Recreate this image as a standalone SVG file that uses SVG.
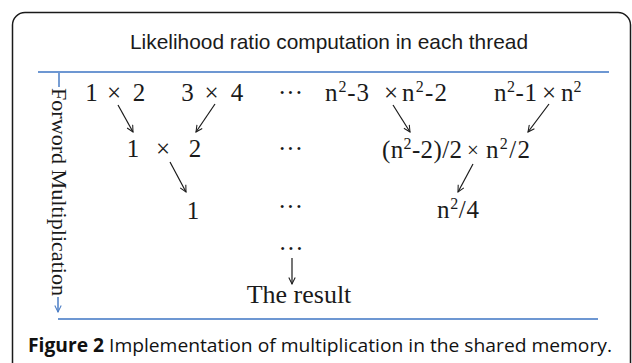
<svg xmlns="http://www.w3.org/2000/svg" width="632" height="363" viewBox="0 0 632 363">
<style>
.frame{fill:none;stroke:#1a1a1a;stroke-width:1.5}
.blue{stroke:#6d97d2;stroke-width:2}
.t{font-family:"Liberation Serif","Times New Roman",serif;font-size:25px;fill:#1a1a1a}
.m{text-anchor:middle}
.s{font-size:16px}
.title{font-family:"Liberation Sans",Arial,sans-serif;font-size:21px;fill:#1a1a1a}
.cap{font-family:"Open Sans","Noto Sans",sans-serif;font-size:19px;fill:#111}
.arr{stroke:#1a1a1a;stroke-width:1.2;fill:none;marker-end:url(#ah)}
</style>
<defs>
<marker id="ah" viewBox="0 0 10 10" refX="9" refY="5" markerWidth="8" markerHeight="8" markerUnits="userSpaceOnUse" orient="auto">
<path d="M1,1 L9,5 L1,9" fill="none" stroke="#1a1a1a" stroke-width="1.3"/>
</marker>
<marker id="bh" viewBox="0 0 10 10" refX="9" refY="5" markerWidth="8" markerHeight="8" markerUnits="userSpaceOnUse" orient="auto">
<path d="M1,1 L9,5 L1,9" fill="none" stroke="#4a7cc4" stroke-width="1.3"/>
</marker>
</defs>
<rect width="632" height="363" fill="#fff"/>
<path class="frame" d="M12.5,370 V25 A12.5,12.5 0 0 1 25,12.5 H618 A12.5,12.5 0 0 1 630.5,25 V370"/>
<g id="title"><text class="title" x="130" y="49" textLength="398" lengthAdjust="spacingAndGlyphs">Likelihood ratio computation in each thread</text></g>
<line class="blue" x1="38" y1="72" x2="609" y2="72"/>
<g id="side">
<line x1="59" y1="73" x2="59" y2="87" stroke="#4a7cc4" stroke-width="1.5"/>
<text class="t" transform="translate(52,88) rotate(90)" style="font-size:20px" textLength="208" lengthAdjust="spacingAndGlyphs">Forword Multiplication</text>
<line x1="58" y1="297" x2="58" y2="312" stroke="#4a7cc4" stroke-width="1.5" marker-end="url(#bh)"/>
</g>
<g id="r1a" class="t m"><text x="91.5" y="101">1</text><text x="114" y="101">×</text><text x="139" y="101">2</text></g>
<g id="r1b" class="t m"><text x="187.5" y="101">3</text><text x="211.5" y="101">×</text><text x="237" y="101">4</text></g>
<g id="r1c" class="t m"><text x="290.5" y="101">···</text></g>
<g id="r1d" class="t">
<text x="325" y="101" textLength="44">n<tspan class="s" dy="-9">2</tspan><tspan dy="9">-3</tspan></text>
<text x="384" y="101">×</text>
<text x="402" y="101" textLength="45">n<tspan class="s" dy="-9">2</tspan><tspan dy="9">-2</tspan></text>
</g>
<g id="r1e" class="t">
<text x="494" y="101" textLength="43">n<tspan class="s" dy="-9">2</tspan><tspan dy="9">-1</tspan></text>
<text x="542" y="101">×</text>
<text x="561" y="101">n<tspan class="s" dy="-9">2</tspan></text>
</g>
<g id="r2a" class="t m"><text x="133" y="157">1</text><text x="163" y="157">×</text><text x="195" y="157">2</text></g>
<g id="r2b" class="t m"><text x="290.5" y="157">···</text></g>
<g id="r2c" class="t">
<text x="382" y="158" textLength="80">(n<tspan class="s" dy="-9">2</tspan><tspan dy="9">-2)/2</tspan></text>
<text x="467" y="157" style="font-size:21px">×</text>
<text x="486" y="158" textLength="44">n<tspan class="s" dy="-9">2</tspan><tspan dy="9">/2</tspan></text>
</g>
<g id="r3a" class="t m"><text x="193" y="219">1</text></g>
<g id="r3b" class="t m"><text x="290.5" y="215">···</text></g>
<g id="r3c" class="t"><text x="437" y="218" textLength="42">n<tspan class="s" dy="-9">2</tspan><tspan dy="9">/4</tspan></text></g>
<g id="r4a" class="t m"><text x="291" y="257">···</text></g>
<g id="result" class="t m"><text x="299" y="303" style="font-size:26px">The result</text></g>
<g id="connectors">
<line class="arr" x1="118" y1="105" x2="133" y2="132"/>
<line class="arr" x1="215" y1="104" x2="196" y2="132"/>
<line class="arr" x1="393" y1="105" x2="410" y2="132"/>
<line class="arr" x1="549" y1="104" x2="528" y2="132"/>
<line class="arr" x1="170" y1="162" x2="186" y2="192"/>
<line class="arr" x1="473" y1="164" x2="458" y2="192"/>
<line class="arr" x1="292" y1="258" x2="292" y2="284"/>
</g>
<line class="blue" x1="58" y1="319" x2="598" y2="319"/>
<g id="caption"><text class="cap" x="28" y="352" textLength="584" lengthAdjust="spacingAndGlyphs"><tspan font-weight="bold">Figure 2</tspan> Implementation of multiplication in the shared memory.</text></g>
</svg>
